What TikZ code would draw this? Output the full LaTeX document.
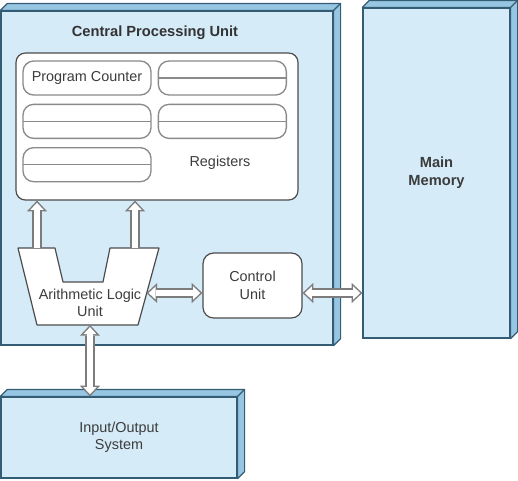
\documentclass[tikz,border=0pt]{standalone}
\usepackage{fontspec}
\setmainfont{Liberation Sans}
\usepackage{tikz}
\usetikzlibrary{positioning,arrows.meta}
\definecolor{front}{HTML}{D5EBF8}
\definecolor{side}{HTML}{96C6E2}
\definecolor{edge}{HTML}{345C75}
\definecolor{regline}{HTML}{8A8A8A}
\definecolor{busline}{HTML}{7C7C7C}
\definecolor{txt}{HTML}{3C3C3C}
\tikzset{
  slab node/.style={draw=edge,fill=front,line width=0.9pt,inner sep=0pt,align=center,text=txt,font=\fontsize{10.8}{13}\selectfont},
  slab face/.style={draw=edge,fill=side,line width=0.9pt,line join=round},
  unit node/.style={draw=black!70,fill=white,line width=0.9pt,rounded corners=7pt,inner sep=0pt,align=center,text=txt,font=\fontsize{10.8}{13}\selectfont},
  reg node/.style={draw=regline,fill=white,line width=1pt,rounded corners=8pt,minimum width=96pt,minimum height=25.5pt,inner sep=0pt,text=txt,font=\fontsize{10.8}{13}\selectfont},
  split reg/.style={reg node,path picture={\draw[regline,line width=1pt] (path picture bounding box.west) -- (path picture bounding box.east);}},
  label node/.style={align=center,inner sep=1pt,text=txt,font=\fontsize{10.8}{13}\selectfont},
  title node/.style={label node,text=black!80,font=\bfseries\fontsize{11}{13}\selectfont},
  bus tip/.style={Triangle[length=5.3pt,width=9.9pt,line width=0pt]},
  outer tip/.style={Triangle[length=8pt,width=15pt,line width=0pt]},
  bus/.style={draw=white,line width=4.6pt,-{Triangle[length=5.3pt,width=9.9pt,line width=0pt]},shorten >=1.6pt,
    preaction={draw=busline,line width=6.8pt,-{Triangle[length=8pt,width=15pt,line width=0pt]},shorten >=0pt}},
  bus both/.style={draw=white,line width=4.6pt,{Triangle[length=5.3pt,width=9.9pt,line width=0pt]}-{Triangle[length=5.3pt,width=9.9pt,line width=0pt]},shorten >=1.6pt,shorten <=1.6pt,
    preaction={draw=busline,line width=6.8pt,{Triangle[length=8pt,width=15pt,line width=0pt]}-{Triangle[length=8pt,width=15pt,line width=0pt]},shorten >=0pt,shorten <=0pt}},
}
\newcommand\slabfaces[1]{%
  \path[slab face] (#1.north west) -- ++(7,-7) -| ([shift={(7,-7)}]#1.south east) -- (#1.south east) -- (#1.north east) -- cycle;
  \draw[edge,line width=0.9pt] (#1.north east) -- ++(7,-7);}

\begin{document}
\begin{tikzpicture}[x=0.75pt,y=-0.75pt]
    \useasboundingbox (0,0) rectangle (518,480);

    \node[slab node,minimum width=249pt,minimum height=250.5pt] (cpu) at (167,178) {};
    \slabfaces{cpu}
    \node[slab node,minimum width=110.25pt,minimum height=247.5pt,font=\bfseries\fontsize{11}{13.5}\selectfont] (mem) at (436.5,173) {Main\\Memory};
    \slabfaces{mem}
    \node[slab node,minimum width=177pt,minimum height=60.75pt] (io) at (119,437.5) {Input/Output\\System};
    \slabfaces{io}

    \node[title node] (cpu title) at (155,33) {Central Processing Unit};

    \node[unit node,minimum width=211.5pt,minimum height=110.25pt] (regs) at (157,126.5) {};
    \node[reg node] (pc) at (87,78) {Program Counter};
    \node[split reg] (r1) [right = 4.5pt of pc] {};
    \node[split reg] (r2) [below = 6pt of pc] {};
    \node[split reg] (r3) [below = 6pt of r1] {};
    \node[split reg] (r4) [below = 6pt of r2] {};
    \node[label node] (regs label) at (220,163) {Registers};

    \node[unit node,rounded corners=8pt,minimum width=74.25pt,minimum height=48.75pt] (cu) at (252.5,285.5) {Control\\Unit};

    \draw[draw=black!70,fill=white,line width=0.9pt,line join=round]
      (18,248) -- (55,248) -- (63,282) -- (103,282) -- (110,248) -- (159,248) -- (138,325) -- (37,325) -- cycle;
    \node[label node] (alu) at (90,303) {Arithmetic Logic\\Unit};
    \coordinate (alu a) at (37,248);
    \coordinate (alu b) at (135,248);
    \coordinate (alu c) at (146.5,293);
    \coordinate (alu d) at (90,325);

    \path
    (alu a) edge[bus] (alu a |- regs.south)
    (alu b) edge[bus] (alu b |- regs.south)
    (alu c) edge[bus both] (cu.west |- alu c)
    (cu.east |- alu c) edge[bus both] (mem.west |- alu c)
    (alu d) edge[bus both] (alu d |- io.north)
    ;
\end{tikzpicture}
\end{document}
